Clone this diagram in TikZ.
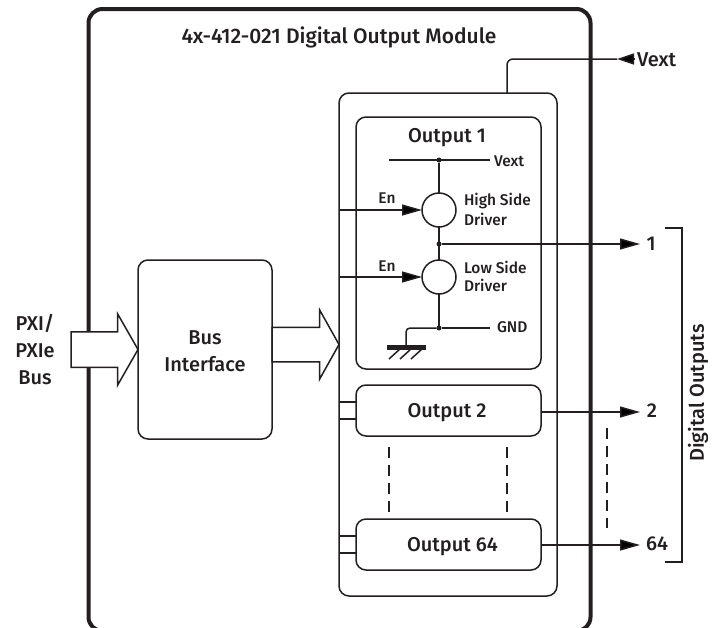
\documentclass[tikz,border=0pt]{standalone}
\usepackage{fontspec}
\setmainfont{Fira Sans}[UprightFont=*-Medium]
\usetikzlibrary{arrows.meta,shapes.arrows}
\definecolor{ink}{HTML}{231F20}
\tikzset{
  box/.style={shape=rectangle, draw=ink, line width=1.5pt, rounded corners=10pt, inner sep=0pt, outer sep=0pt},
  driver/.style={shape=circle, draw=ink, line width=1.5pt, minimum size=34pt, inner sep=0pt, outer sep=0pt},
  joint/.style={shape=circle, fill=ink, minimum size=5pt, inner sep=0pt, outer sep=0pt},
  busarrow/.style={shape=single arrow, draw=ink, fill=white, line width=1.5pt, anchor=tip, inner xsep=0pt, outer sep=0pt},
  wire/.style={-, line width=1.5pt, draw=ink},
  sig/.style={-{Triangle[length=20pt,width=11pt]}},
  vsig/.style={-{Triangle[length=17pt,width=11pt]}},
  gap/.style={-, line width=1.5pt, draw=ink, dash pattern=on 11pt off 7pt},
  txt/.style={text=ink, font=\fontsize{20}{20}\selectfont, inner sep=0pt, outer sep=0pt},
  small/.style={text=ink, font=\fontsize{15.5}{15.5}\selectfont, inner sep=0pt, outer sep=0pt, align=left}
}
\begin{document}
\begin{tikzpicture}[x=1pt, y=-1pt]
\clip (0,0) rectangle (718,627);
\node[box, line width=4pt, rounded corners=14pt, minimum width=502pt, minimum height=622pt] (module) at (339.5,320) {};
\node[box, minimum width=218pt, minimum height=503pt] (outputs) at (448,344.5) {};
\node[box, minimum width=185pt, minimum height=252pt] (out1) at (448.5,243) {};
\node[box, minimum width=185pt, minimum height=51pt] (out2) at (448.5,410.5) {};
\node[box, minimum width=185pt, minimum height=51pt] (out64) at (448.5,544.5) {};
\node[box, minimum width=134pt, minimum height=179pt] (bus) at (205,349.5) {};
\node[busarrow, inner ysep=17pt, minimum height=67pt, minimum width=70pt, single arrow head extend=18pt, single arrow tip angle=120.5] (busin) at (bus.west) {};
\node[busarrow, inner ysep=16.5pt, minimum height=67pt, minimum width=68pt, single arrow head extend=17.5pt, single arrow tip angle=121.5] (busout) at (339,344.5) {};
\node[txt, font=\fontsize{21}{21}\selectfont] (title) at (339,37) {4x-412-021 Digital Output Module};
\node[txt, align=center] (pxi) at (35,349.5) {PXI/\\[7pt]PXIe\\[7pt]Bus};
\node[txt, align=center] (buslabel) at (205,351.5) {Bus\\[7pt]Interface};
\node[txt] (out1label) at (447,138) {Output 1};
\node[txt] (out2label) at (447,413) {Output 2};
\node[txt] (out64label) at (452.5,547) {Output 64};
\node[driver] (high) at (439,210) {};
\node[driver] (low) at (439,277) {};
\node[joint] (vdot) at (439,160) {};
\node[joint] (mid) at (439,244) {};
\node[joint] (gdot) at (439,328) {};
\coordinate (vleft) at (389,160);
\coordinate (vright) at (490,160);
\coordinate (gright) at (490,328);
\node[small, anchor=west] (vextin) at (494,161) {Vext};
\node[small, anchor=west] (gnd) at (497,327) {GND};
\node[small] (en1) at (387,198) {En};
\node[small] (en2) at (387,266) {En};
\node[small, anchor=west] (highlabel) at (464,209.5) {High Side\\[3pt]Driver};
\node[small, anchor=west] (lowlabel) at (464,276.5) {Low Side\\[3pt]Driver};
\node[txt, anchor=west] (vext) at (637,60) {Vext};
\node[txt] (o1) at (651,244) {1};
\node[txt] (o2) at (652,411) {2};
\node[txt] (o64) at (657,544) {64};
\node[txt, rotate=90] (digital) at (698,393) {Digital Outputs};
\coordinate (en1in) at (outputs.west |- high.west);
\coordinate (en2in) at (outputs.west |- low.west);
\coordinate (o1tip) at (640,244);
\coordinate (o2tip) at (640,412);
\coordinate (o2from) at (541,412);
\coordinate (o64tip) at (640,545);
\coordinate (o64from) at (541,545);
\coordinate (vtop) at (507,93);
\coordinate (vtip) at (617,59);
\coordinate (vhead) at (634,59);
\coordinate (stub1a) at (339,402);
\coordinate (stub1b) at (356,402);
\coordinate (stub2a) at (339,419);
\coordinate (stub2b) at (356,419);
\coordinate (stub3a) at (339,536);
\coordinate (stub3b) at (356,536);
\coordinate (stub4a) at (339,553);
\coordinate (stub4b) at (356,553);
\coordinate (gbarl) at (387,347);
\coordinate (gbarr) at (426,347);
\coordinate (gbarm) at (406,345);
\coordinate (h1a) at (400,349);
\coordinate (h1b) at (389,359);
\coordinate (h2a) at (411,349);
\coordinate (h2b) at (400,359);
\coordinate (h3a) at (422,349);
\coordinate (h3b) at (411,359);
\coordinate (d1a) at (389,447);
\coordinate (d1b) at (389,512);
\coordinate (d2a) at (507,447);
\coordinate (d2b) at (507,512);
\coordinate (d3a) at (607,428);
\coordinate (d3b) at (607,528);
\coordinate (bra) at (665,228);
\coordinate (brb) at (682,228);
\coordinate (brc) at (682,562);
\coordinate (brd) at (665,562);
\path [wire] (vleft) edge (vright);
\path [wire] (vdot) edge (high.north);
\path [wire] (high.south) edge (low.north);
\path [wire] (low.south) edge (gdot);
\path [wire] (gdot) edge (gright);
\path [wire] (en1in) edge [sig] (high.west);
\path [wire] (en2in) edge [sig] (low.west);
\path [wire] (mid) edge [sig] (o1tip);
\path [wire] (o2from) edge [sig] (o2tip);
\path [wire] (o64from) edge [sig] (o64tip);
\draw [wire, rounded corners=6pt] (vtop) |- (vtip);
\path [wire] (vhead) edge [vsig] (vtip);
\draw [wire, rounded corners=4pt] (gdot) -| (gbarm);
\draw [-, line width=5pt, draw=ink] (gbarl) -- (gbarr);
\path [wire] (h1a) edge (h1b);
\path [wire] (h2a) edge (h2b);
\path [wire] (h3a) edge (h3b);
\path [wire] (stub1a) edge (stub1b);
\path [wire] (stub2a) edge (stub2b);
\path [wire] (stub3a) edge (stub3b);
\path [wire] (stub4a) edge (stub4b);
\path [gap] (d1a) edge (d1b);
\path [gap] (d2a) edge (d2b);
\path [gap] (d3a) edge (d3b);
\draw [wire] (bra) -- (brb) -- (brc) -- (brd);
\end{tikzpicture}
\end{document}
